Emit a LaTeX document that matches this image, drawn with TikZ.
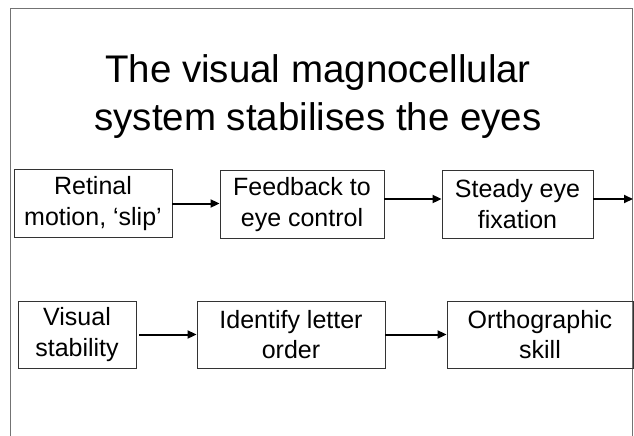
\documentclass[tikz,border=0pt]{standalone}
\usepackage{fontspec}
\setmainfont{Liberation Sans}
\usetikzlibrary{arrows.meta}

\tikzset{
  stagebox/.style={draw=black!80, line width=0.9pt, inner sep=0pt, align=center,
    font=\fontsize{25}{30.5}\selectfont, minimum height=68pt},
  flow/.style={line width=2pt, -{Triangle[length=9pt,width=8pt]}},
  slideframe/.style={draw=black!55, line width=1pt}
}

\begin{document}
\begin{tikzpicture}[x=1pt, y=-1pt]
  \useasboundingbox (0,0) rectangle (634,436);
  \fill[white] (0,0) rectangle (634,436);

  % slide border (open at the bottom)
  \draw[slideframe] (10,436) -- (10,9) -- (632,9) -- (632,436);

  % heading
  \node[align=center, font=\fontsize{38.5}{48}\selectfont] (title) at (318,97)
    {The visual magnocellular\\system stabilises the eyes};

  % first row
  \node[stagebox, minimum width=158pt] (slip) at (93,203.5) {Retinal\\motion, ‘slip’};
  \node[stagebox, minimum width=164pt] (feed) at (302,204.5) {Feedback to\\eye control};
  \node[stagebox, minimum width=151pt] (fix)  at (517.5,204) {Steady eye\\fixation};

  % second row
  \node[stagebox, minimum width=118pt, minimum height=67pt] (stab)  at (77,334.5) {Visual\\stability};
  \node[stagebox, minimum width=188pt, minimum height=67pt] (order) at (291,334.5) {Identify letter\\order};
  \node[stagebox, minimum width=186pt, minimum height=67pt] (ortho) at (540,334.5) {Orthographic\\skill};

  \coordinate (edge) at (633,199);

  % connectors
  \draw[flow] (slip.east) -- (slip.east -| feed.west);
  \draw[flow] ([yshift=5.5pt]feed.east) -- ([yshift=5.5pt]feed.east -| fix.west);
  \draw[flow] (fix.east |- edge) -- (edge);
  \draw[flow] ([xshift=3pt]stab.east) -- (order.west);
  \draw[flow] (order.east) -- (ortho.west);
\end{tikzpicture}
\end{document}
